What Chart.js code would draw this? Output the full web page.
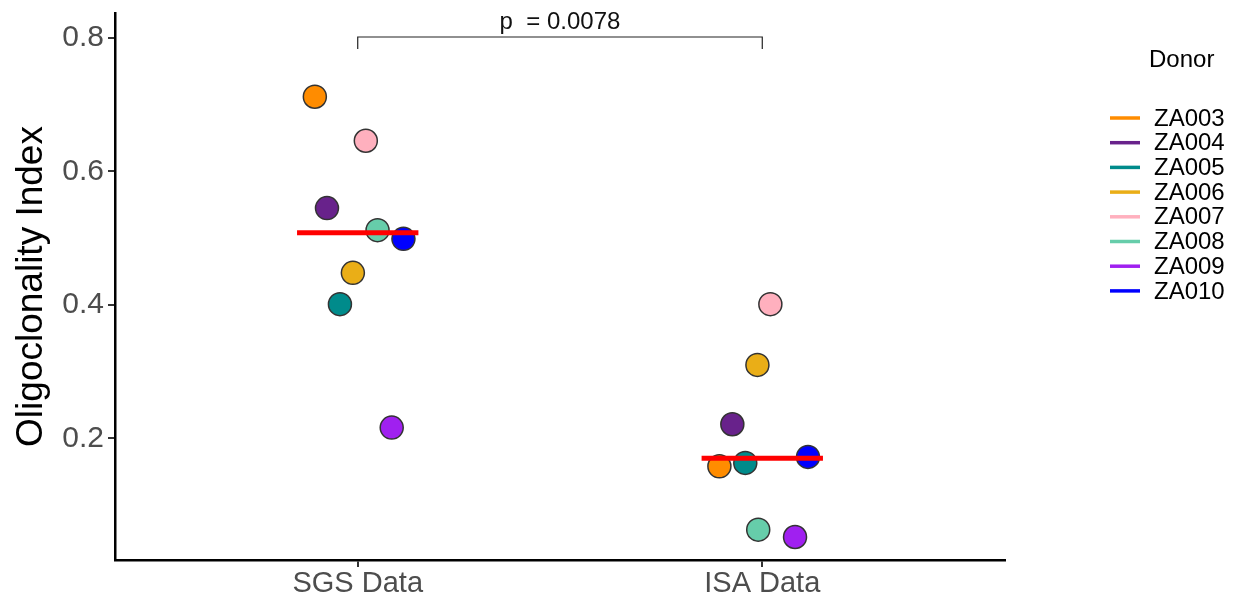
<!DOCTYPE html>
<html>
<head>
<meta charset="utf-8">
<script src="https://cdn.jsdelivr.net/npm/chart.js@4.4.1/dist/chart.umd.min.js"></script>
<style>
  html, body { margin: 0; padding: 0; background: #ffffff; }
  #wrap { width: 1233px; height: 600px; }
</style>
</head>
<body>
<div id="wrap"><canvas id="c" width="1233" height="600"></canvas></div>
<script>
// ---- data ----
const donors = ['ZA003', 'ZA004', 'ZA005', 'ZA006', 'ZA007', 'ZA008', 'ZA009', 'ZA010'];
const donorColors = ['#FF8C00', '#68228B', '#008B8B', '#EAAE17', '#FFB0BE', '#66CDAA', '#A020F0', '#0000FF'];
const groupLabels = ['SGS Data', 'ISA Data'];
// jittered x positions (1 = SGS, 2 = ISA) and values
const sgsX = [0.894, 0.924, 0.956, 0.988, 1.020, 1.049, 1.084, 1.113];
const sgsY = [0.712, 0.545, 0.401, 0.448, 0.646, 0.512, 0.216, 0.499];
const isaX = [1.894, 1.926, 1.958, 1.988, 2.020, 1.990, 2.081, 2.113];
const isaY = [0.158, 0.221, 0.163, 0.310, 0.401, 0.063, 0.052, 0.172];
const medianValues = [0.508, 0.170];
const yTicks = [0.2, 0.4, 0.6, 0.8];
const pText = 'p  = 0.0078';
const bracketY = 0.8015;
const bracketEndY = 0.7835;

const FONT = "'Liberation Sans', Arial, Helvetica, sans-serif";

const datasets = [];
donors.forEach((d, i) => {
  datasets.push({
    type: 'scatter',
    label: d,
    data: [{ x: sgsX[i], y: sgsY[i] }, { x: isaX[i], y: isaY[i] }],
    backgroundColor: donorColors[i],
    borderColor: '#333333',
    borderWidth: 1.5,
    pointRadius: 11.5,
    pointHoverRadius: 11.5,
    order: donors.length - i
  });
});
medianValues.forEach((m, g) => {
  datasets.push({
    type: 'line',
    label: 'median ' + groupLabels[g],
    data: [{ x: g + 1 - 0.15, y: m }, { x: g + 1 + 0.15, y: m }],
    borderColor: '#FF0000',
    borderWidth: 5,
    pointRadius: 0,
    fill: false,
    order: 0
  });
});
// significance bracket
datasets.push({
  type: 'line',
  label: 'bracket',
  data: [{ x: 1, y: bracketEndY }, { x: 1, y: bracketY }, { x: 2, y: bracketY }, { x: 2, y: bracketEndY }],
  borderColor: '#222222',
  borderWidth: 1.2,
  pointRadius: 0,
  fill: false,
  order: 0
});

const extras = {
  id: 'extras',
  afterDraw(chart) {
    const ctx = chart.ctx;
    const xs = chart.scales.x, ys = chart.scales.y;
    ctx.save();
    // p-value text
    ctx.fillStyle = '#111111';
    ctx.font = '24px ' + FONT;
    ctx.textAlign = 'center';
    ctx.textBaseline = 'alphabetic';
    ctx.fillText(pText, (xs.getPixelForValue(1) + xs.getPixelForValue(2)) / 2, ys.getPixelForValue(bracketY) - 8);
    // y title
    ctx.save();
    ctx.translate(32, (chart.chartArea.top + chart.chartArea.bottom) / 2);
    ctx.rotate(-Math.PI / 2);
    ctx.textBaseline = 'middle';
    ctx.font = '37px ' + FONT;
    ctx.fillStyle = '#000000';
    ctx.fillText('Oligoclonality Index', 0, 0);
    ctx.restore();
    // legend
    ctx.textAlign = 'left';
    ctx.textBaseline = 'middle';
    ctx.font = '24px ' + FONT;
    ctx.fillStyle = '#000000';
    ctx.fillText('Donor', 1149, 60);
    donors.forEach((d, i) => {
      const y = 118 + i * 24.7;
      ctx.strokeStyle = donorColors[i];
      ctx.lineWidth = 3.5;
      ctx.beginPath();
      ctx.moveTo(1110, y);
      ctx.lineTo(1140, y);
      ctx.stroke();
      ctx.fillStyle = '#000000';
      ctx.fillText(d, 1154, y + 1);
    });
    ctx.restore();
  }
};

new Chart(document.getElementById('c'), {
  data: { datasets },
  options: {
    responsive: false,
    animation: false,
    layout: { padding: { top: 12, right: 228, bottom: 0, left: 0 } },
    plugins: { legend: { display: false }, tooltip: { enabled: false } },
    scales: {
      x: {
        type: 'linear',
        min: 0.4,
        max: 2.6,
        afterBuildTicks: s => { s.ticks = [{ value: 1 }, { value: 2 }]; },
        afterFit: s => { s.height = 40; s.paddingLeft = 0; s.paddingRight = 0; },
        ticks: {
          callback: v => groupLabels[Math.round(v) - 1],
          font: { size: 29, family: FONT },
          color: '#4d4d4d',
          padding: 0,
          maxRotation: 0
        },
        grid: { drawOnChartArea: false, drawTicks: true, tickLength: 7, color: '#333333', lineWidth: 2 },
        border: { display: true, color: '#000000', width: 2.5 }
      },
      y: {
        type: 'linear',
        min: 0.0175,
        max: 0.8375,
        afterBuildTicks: s => { s.ticks = yTicks.map(v => ({ value: v })); },
        afterFit: s => { s.width = 115; s.paddingTop = 0; s.paddingBottom = 0; },
        ticks: {
          callback: v => v.toFixed(1),
          font: { size: 30, family: FONT },
          color: '#4d4d4d',
          padding: 4
        },
        grid: { drawOnChartArea: false, drawTicks: true, tickLength: 7, color: '#333333', lineWidth: 2 },
        border: { display: true, color: '#000000', width: 2.5 }
      }
    }
  },
  plugins: [extras]
});
</script>
</body>
</html>
